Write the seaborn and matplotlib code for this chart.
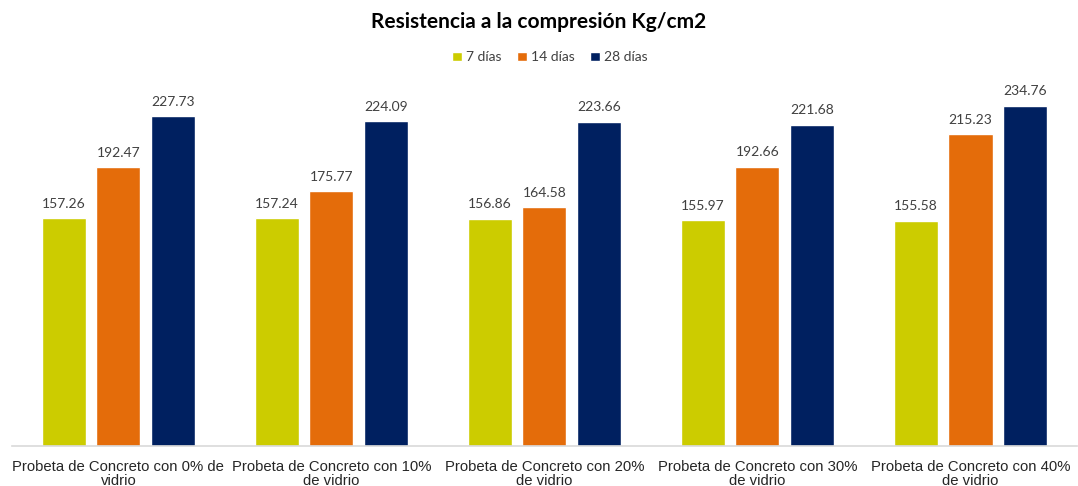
import matplotlib
matplotlib.use("Agg")
import matplotlib.pyplot as plt
import seaborn as sns
import pandas as pd

categorias = [
    "Probeta de Concreto con 0% de\nvidrio",
    "Probeta de Concreto con 10%\nde vidrio",
    "Probeta de Concreto con 20%\nde vidrio",
    "Probeta de Concreto con 30%\nde vidrio",
    "Probeta de Concreto con 40%\nde vidrio",
]
series = ["7 días", "14 días", "28 días"]
dias_7 = [157.26, 157.24, 156.86, 155.97, 155.58]
dias_14 = [192.47, 175.77, 164.58, 192.66, 215.23]
dias_28 = [227.73, 224.09, 223.66, 221.68, 234.76]
colores = ["#CCCC00", "#E46C0A", "#002060"]

filas = []
for nombre, valores in zip(series, [dias_7, dias_14, dias_28]):
    for cat, v in zip(categorias, valores):
        filas.append({"categoria": cat, "serie": nombre, "valor": v})
df = pd.DataFrame(filas)

sns.set_theme(style="white")
plt.rcParams["font.family"] = ["Lato", "DejaVu Sans"]

fig = plt.figure(figsize=(10.78, 4.86), dpi=100)
ax = fig.add_axes([0.011, 0.082, 0.988, 0.743])

sns.barplot(data=df, x="categoria", y="valor", hue="serie",
            palette=colores, width=0.768, gap=0.19, ax=ax,
            saturation=1, errorbar=None, legend=True)

ax.set_ylim(0, 249)
ax.set_xlim(-0.5, len(categorias) - 0.5)
ax.set_xlabel("")
ax.set_ylabel("")
ax.set_yticks([])
for s in ["top", "left", "right"]:
    ax.spines[s].set_visible(False)
ax.spines["bottom"].set_color("#D9D9D9")
ax.spines["bottom"].set_linewidth(1.2)

for lbl in ax.get_xticklabels():
    lbl.set_fontfamily(["Liberation Sans", "DejaVu Sans"])
    lbl.set_fontsize(10.7)
    lbl.set_color("#262626")
    lbl.set_linespacing(1.0)
ax.tick_params(axis="x", length=0, pad=10)

for cont in ax.containers:
    ax.bar_label(cont, fmt="%.2f", padding=6, fontsize=10, color="#404040")

fig.suptitle("Resistencia a la compresión Kg/cm2", y=0.975,
             fontsize=15, fontweight="bold", color="#000000")

ax.legend_.remove()
fig.legend(*ax.get_legend_handles_labels(), loc="center",
           bbox_to_anchor=(0.510, 0.882), ncol=3, frameon=False,
           fontsize=10, handlelength=0.7, handleheight=0.7,
           handletextpad=0.3, columnspacing=1.1, labelcolor="#404040")

fig.savefig("out.png", dpi=100)
